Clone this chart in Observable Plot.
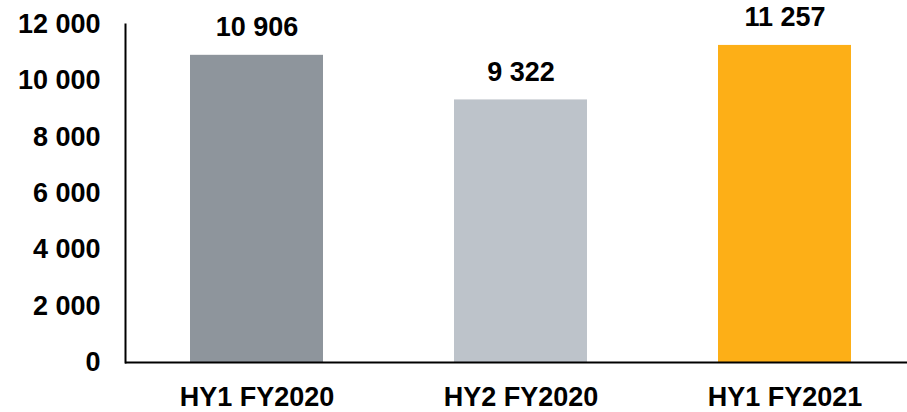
<!DOCTYPE html>
<html>
<head>
<meta charset="utf-8">
<script src="https://cdn.jsdelivr.net/npm/d3@7"></script>
<script src="https://cdn.jsdelivr.net/npm/@observablehq/plot@0.6"></script>
<style>
  html, body { margin: 0; padding: 0; background: #fff; }
  #chart svg { display: block; }
</style>
</head>
<body>
<div id="chart"></div>
<script>
const categories = ["HY1 FY2020", "HY2 FY2020", "HY1 FY2021"];
const values = [10906, 9322, 11257];
const yTicks = [0, 2000, 4000, 6000, 8000, 10000, 12000];
const barColors = ["#8E959C", "#BDC3CA", "#FDAF17"];

const data = categories.map((c, i) => ({category: c, value: values[i]}));
const fmt = d => d3.format(",")(d).replace(/,/g, "\u00a0");

const chart = Plot.plot({
  width: 907,
  height: 412,
  marginLeft: 125,
  marginRight: 0,
  marginTop: 24,
  marginBottom: 50,
  style: {fontFamily: "'Liberation Sans', Arial, sans-serif", fontWeight: "bold", fontSize: "27px", color: "#000", background: "#fff"},
  x: {domain: categories, range: [125, 917], paddingInner: 0.496, paddingOuter: 0.248, label: null},
  y: {domain: [0, 12000], label: null},
  color: {domain: categories, range: barColors},
  marks: [
    Plot.barY(data, {x: "category", y: "value", fill: "category"}),
    Plot.ruleY([0], {stroke: "#000", strokeWidth: 2}),
    Plot.frame({anchor: "left", stroke: "#000", strokeWidth: 2, strokeOpacity: 1}),
    Plot.axisY({ticks: yTicks, tickSize: 0, tickPadding: 25, tickFormat: fmt, label: null, fill: "#000"}),
    Plot.axisX({tickSize: 0, tickPadding: 24, label: null, fill: "#000"}),
    Plot.text(data, {x: "category", y: "value", text: d => fmt(d.value), dy: -28, fill: "#000", fontWeight: "bold", fontSize: 27})
  ]
});
document.getElementById("chart").append(chart);
</script>
</body>
</html>
